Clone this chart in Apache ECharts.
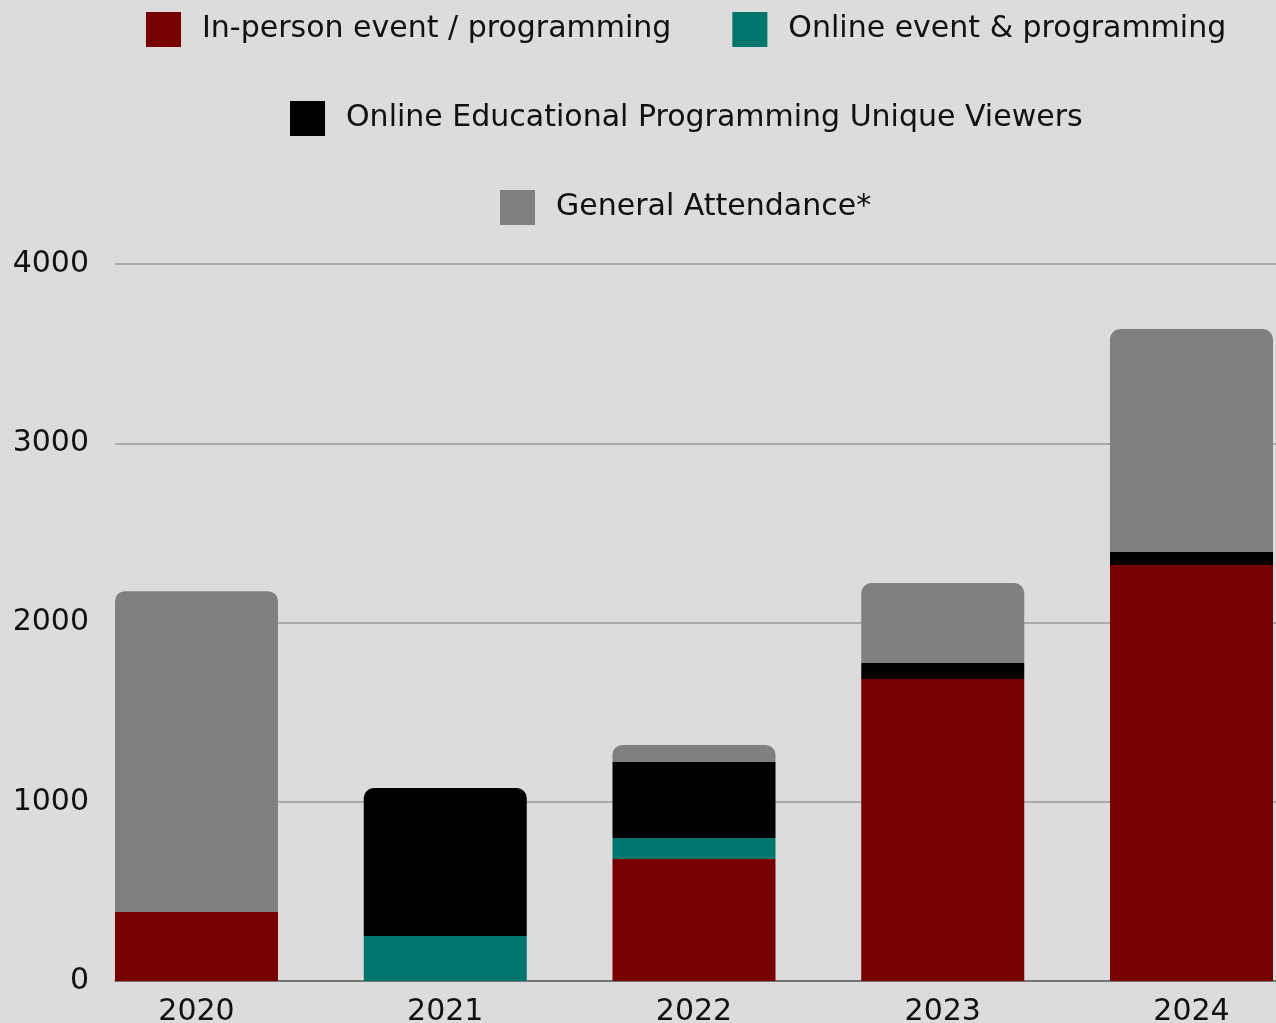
<!DOCTYPE html>
<html><head><meta charset="utf-8">
<script src="https://cdn.jsdelivr.net/npm/echarts@6/dist/echarts.min.js"></script>
<style>html,body{margin:0;padding:0;background:#dddbdb;overflow:hidden;}#c{width:1276px;height:1023px;}</style>
</head><body><div id="c"></div>
<script>
const years = ['2020','2021','2022','2023','2024'];
const inPerson = [385, 0, 681, 1685, 2321];
const onlineEvent = [0, 251, 117, 0, 0];
const onlineEdu = [0, 826, 424, 89, 72];
const general = [1790, 0, 95, 446, 1244];
const yTicks = [0, 1000, 2000, 3000, 4000];

const names = ['In-person event / programming','Online event & programming','Online Educational Programming Unique Viewers','General Attendance*'];
const colors = ['#770000','#00756b','#000000','#808080'];
const all = [inPerson, onlineEvent, onlineEdu, general];

function topIndex(i){ let t=-1; all.forEach((s,k)=>{ if(s[i]>0) t=k; }); return t; }

const series = all.map((arr,k)=>({
  name: names[k], type:'bar', stack:'a', barWidth:163,
  encode:{x:1, y:0},
  itemStyle:{color:colors[k]},
  data: arr.map((v,i)=>({value:[v,i], itemStyle: topIndex(i)===k ? {borderRadius:[10,10,0,0]} : {}}))
}));

const font = 'DejaVu Sans';
const legendBase = {
  itemWidth:35, itemHeight:35, itemGap:61, icon:'rect', padding:0,
  textStyle:{fontFamily:font, fontSize:30, color:'#111', padding:[0,0,0,16]}
};

const chart = echarts.init(document.getElementById('c'));
chart.setOption({
  backgroundColor:'#dddbdb',
  animation:false,
  legend:[
    Object.assign({}, legendBase, {top:12, left:146, data:[names[0], names[1]]}),
    Object.assign({}, legendBase, {top:101, left:290, data:[names[2]]}),
    Object.assign({}, legendBase, {top:190, left:500, data:[names[3]]})
  ],
  grid:{left:115, width:1161, top:264, height:717, containLabel:false, outerBoundsMode:'none'},
  xAxis:{
    type:'value', min:-0.3276, max:4.3397,
    splitLine:{show:false}, axisTick:{show:false},
    axisLine:{show:true, lineStyle:{color:'#666', width:1.5}},
    axisLabel:{customValues:[0,1,2,3,4], formatter:v=>years[Math.round(v)], fontFamily:font, fontSize:30, color:'#111', margin:16}
  },
  yAxis:{
    type:'value', min:yTicks[0], max:yTicks[yTicks.length-1], interval:1000,
    axisLine:{show:false}, axisTick:{show:false},
    splitLine:{lineStyle:{color:'#aaaaaa', width:2}},
    axisLabel:{formatter:v=>String(v), fontFamily:font, fontSize:30, color:'#111', margin:26}
  },
  series: series
});
</script></body></html>
